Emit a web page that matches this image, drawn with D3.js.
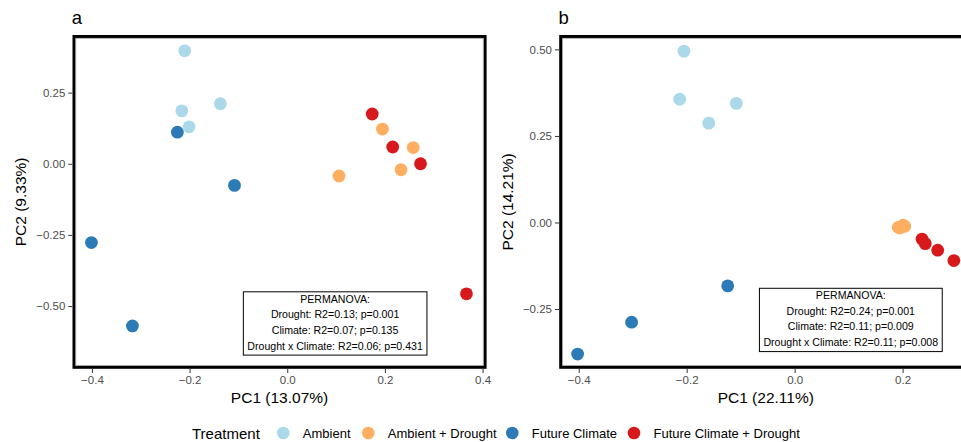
<!DOCTYPE html>
<html>
<head>
<meta charset="utf-8">
<script src="https://cdn.jsdelivr.net/npm/d3@7"></script>
<style>
  body { margin: 0; background: #fff; }
  svg { font-family: "Liberation Sans", Arial, sans-serif; }
</style>
</head>
<body>
<svg width="961" height="442"></svg>
<script>
// Treatments and colours
let treatments = ["Ambient", "Ambient + Drought", "Future Climate", "Future Climate + Drought"];
let colors = ["#abd9e9", "#fdae61", "#2c7bb6", "#d7191c"];

// Panel a scores
let aPC1 = [-0.210, -0.216, -0.201, -0.137,
            -0.225, -0.108, -0.401, -0.317,
             0.195,  0.258,  0.233,  0.106,
             0.174,  0.216,  0.273,  0.367];
let aPC2 = [ 0.397,  0.186,  0.130,  0.211,
             0.111, -0.076, -0.277, -0.570,
             0.122,  0.057, -0.021, -0.043,
             0.175,  0.059,  0.000, -0.457];
let aGroup = [0, 0, 0, 0, 2, 2, 2, 2, 1, 1, 1, 1, 3, 3, 3, 3];

// Panel b scores
let bPC1 = [-0.205, -0.213, -0.159, -0.108,
            -0.124, -0.302, -0.402,
             0.192,  0.195,  0.201,  0.204,
             0.236,  0.242,  0.265,  0.295];
let bPC2 = [ 0.495,  0.356,  0.287,  0.344,
            -0.183, -0.288, -0.380,
            -0.014, -0.016, -0.008, -0.011,
            -0.048, -0.061, -0.080, -0.110];
let bGroup = [0, 0, 0, 0, 2, 2, 2, 1, 1, 1, 1, 3, 3, 3, 3];

// Ticks
let aXTicks = [-0.4, -0.2, 0, 0.2, 0.4];
let aYTicks = [-0.5, -0.25, 0, 0.25];
let bXTicks = [-0.4, -0.2, 0, 0.2];
let bYTicks = [-0.25, 0, 0.25, 0.5];

// Annotation text
let aStats = ["PERMANOVA:", "Drought: R2=0.13; p=0.001", "Climate: R2=0.07; p=0.135", "Drought x Climate: R2=0.06; p=0.431"];
let bStats = ["PERMANOVA:", "Drought: R2=0.24; p=0.001", "Climate: R2=0.11; p=0.009", "Drought x Climate: R2=0.11; p=0.008"];

let svg = d3.select("svg");
let top0 = 38.3, bottom0 = 365.5;

function drawPanel(opt) {
    let x = d3.scaleLinear().domain(opt.xDomain).range([opt.left, opt.right]);
    let y = d3.scaleLinear().domain(opt.yDomain).range([bottom0, top0]);
    let g = svg.append("g");

    // panel border: gray inner line plus thick black frame
    g.append("rect")
        .attr("x", opt.left - 1.8).attr("y", top0 - 1.8)
        .attr("width", opt.right - opt.left + 3.6).attr("height", bottom0 - top0 + 3.6)
        .attr("fill", "none").attr("stroke", "#000").attr("stroke-width", 3);
    g.append("rect")
        .attr("x", opt.left).attr("y", top0)
        .attr("width", opt.right - opt.left).attr("height", bottom0 - top0)
        .attr("fill", "none").attr("stroke", "#999").attr("stroke-width", 0.8);

    // x axis
    let xAxis = d3.axisBottom(x).tickValues(opt.xTicks).tickFormat(d3.format(".1f"))
        .tickSize(4).tickPadding(3);
    let gx = g.append("g").attr("transform", `translate(0, ${bottom0 + 3.5})`).call(xAxis);
    gx.select(".domain").remove();
    gx.selectAll("line").attr("stroke", "#333");
    gx.selectAll("text").attr("fill", "#4d4d4d").style("font-size", "11.5px");

    // y axis
    let yAxis = d3.axisLeft(y).tickValues(opt.yTicks).tickFormat(d3.format(".2f"))
        .tickSize(4).tickPadding(3);
    let gy = g.append("g").attr("transform", `translate(${opt.left - 3.5}, 0)`).call(yAxis);
    gy.select(".domain").remove();
    gy.selectAll("line").attr("stroke", "#333");
    gy.selectAll("text").attr("fill", "#4d4d4d").style("font-size", "11.5px");

    // axis titles
    g.append("text")
        .attr("x", (opt.left + opt.right) / 2).attr("y", 403)
        .attr("text-anchor", "middle").style("font-size", "15.5px")
        .text(opt.xTitle);
    g.append("text")
        .attr("transform", `translate(${opt.yTitleX}, ${(top0 + bottom0) / 2}) rotate(-90)`)
        .attr("text-anchor", "middle").style("font-size", "15.5px")
        .text(opt.yTitle);

    // panel tag
    g.append("text")
        .attr("x", opt.left - 4).attr("y", 24)
        .style("font-size", "18.5px")
        .text(opt.tag);

    // points
    let idx = d3.range(opt.pc1.length);
    g.append("g").selectAll("circle")
        .data(idx)
        .enter()
        .append("circle")
        .attr("cx", i => x(opt.pc1[i]))
        .attr("cy", i => y(opt.pc2[i]))
        .attr("r", 6.4)
        .attr("fill", i => colors[opt.group[i]]);

    // PERMANOVA box
    let ax = x(opt.statX), ay = y(opt.statY);
    let box = g.append("rect").attr("fill", "#fff").attr("stroke", "#000").attr("stroke-width", 1);
    let tg = g.append("g");
    opt.stats.forEach(function(s, i) {
        tg.append("text")
            .attr("x", ax).attr("y", ay + 11 + i * 15.6)
            .attr("text-anchor", "middle").style("font-size", "10.6px")
            .text(s);
    });
    let bb = tg.node().getBBox();
    box.attr("x", bb.x - 4).attr("y", ay)
        .attr("width", bb.width + 8).attr("height", bb.y + bb.height - ay + 3.5);
}

drawPanel({
    tag: "a", left: 75.8, right: 483.3,
    xDomain: [-0.433, 0.4015], yDomain: [-0.709, 0.441],
    xTicks: aXTicks, yTicks: aYTicks,
    xTitle: "PC1 (13.07%)", yTitle: "PC2 (9.33%)", yTitleX: 26,
    pc1: aPC1, pc2: aPC2, group: aGroup,
    stats: aStats, statX: 0.098, statY: -0.450
});

drawPanel({
    tag: "b", left: 562.5, right: 969,
    xDomain: [-0.430, 0.323], yDomain: [-0.413, 0.532],
    xTicks: bXTicks, yTicks: bYTicks,
    xTitle: "PC1 (22.11%)", yTitle: "PC2 (14.21%)", yTitleX: 513,
    pc1: bPC1, pc2: bPC2, group: bGroup,
    stats: bStats, statX: 0.104, statY: -0.190
});

// Legend
let legend = svg.append("g").attr("transform", "translate(0, 433)");
legend.append("text")
    .attr("x", 192).attr("y", 5.5)
    .style("font-size", "15px")
    .text("Treatment");
let legendX = [283.3, 368.3, 512.3, 634];
let items = legend.selectAll("g.item")
    .data(treatments)
    .enter()
    .append("g")
    .attr("class", "item")
    .attr("transform", (d, i) => `translate(${legendX[i]}, 0)`);
items.append("circle").attr("r", 6.3).attr("fill", (d, i) => colors[i]);
items.append("text")
    .attr("x", 19.5).attr("y", 4.7)
    .style("font-size", "13px")
    .text(d => d);
</script>
</body>
</html>
